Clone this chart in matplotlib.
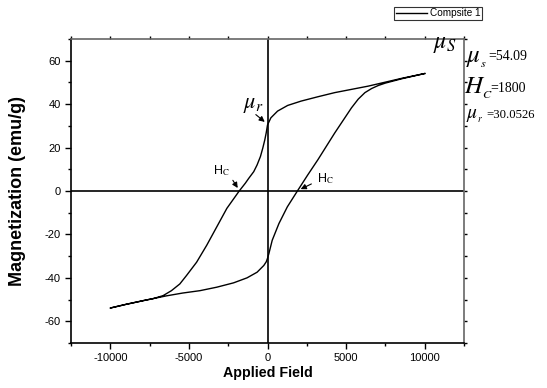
import matplotlib
matplotlib.use("Agg")
import matplotlib.pyplot as plt
from matplotlib.ticker import MultipleLocator

plt.rcParams['font.family'] = ['Liberation Sans', 'DejaVu Sans']
plt.rcParams['mathtext.fontset'] = 'stix'
plt.rcParams['axes.unicode_minus'] = False

# Upper (descending) branch
H_up = [10000, 8547, 7479, 6410, 5342, 4274, 3205, 2137, 1282, 641, 214, 0,
        -85, -171, -299, -449, -663, -876, -1197, -1410, -1800, -2586, -3226,
        -3867, -4510, -5150, -5577, -6111, -6645, -7286, -7778, -9000, -10000]
M_up = [54.1, 51.9, 50.1, 48.3, 46.8, 45.3, 43.4, 41.4, 39.4, 36.8, 33.7, 30.4,
        26.7, 23.6, 19.8, 15.9, 12.0, 8.9, 5.8, 3.6, 0.0, -8.0, -16.5,
        -25.0, -32.8, -38.9, -42.8, -45.9, -48.2, -49.6, -50.3, -52.2, -53.9]
# Lower (ascending) branch
H_lo = [-10000, -9000, -7778, -6433, -5400, -4295, -3226, -2158, -1303, -662,
        -235, -80, 0, 85, 299, 726, 1261, 1901, 2550, 3205, 4274, 5342, 5770,
        6197, 6625, 7051, 7500, 8547, 10000]
M_lo = [-53.9, -52.2, -50.3, -48.3, -47.0, -45.9, -44.3, -42.3, -40.0, -37.4,
        -34.3, -32.6, -31.0, -28.9, -22.7, -15.0, -7.3, 0.0, 7.3, 14.4, 26.7,
        38.3, 42.3, 45.3, 47.2, 48.6, 49.7, 51.7, 54.1]

legend_label = "Compsite 1"
x_ticks = [-10000, -5000, 0, 5000, 10000]
y_ticks = [-60, -40, -20, 0, 20, 40, 60]

fig = plt.figure(figsize=(5.47, 3.88), dpi=100)
ax = fig.add_axes([0.1298, 0.116, 0.7185, 0.7835])

H_all = H_up + H_lo[1:]
M_all = M_up + M_lo[1:]
line, = ax.plot(H_all, M_all, color='black', lw=1.0, label=legend_label)

ax.axhline(0, color='black', lw=1.2, zorder=1)
ax.axvline(0, color='black', lw=1.2, zorder=1)

ax.set_xlim(-12500, 12500)
ax.set_ylim(-70, 70)
ax.set_xticks(x_ticks)
ax.set_yticks(y_ticks)
ax.xaxis.set_minor_locator(MultipleLocator(2500))
ax.yaxis.set_minor_locator(MultipleLocator(10))
ax.tick_params(which='major', direction='out', length=4, width=1, labelsize=8)
ax.tick_params(which='minor', direction='out', length=2.5, width=1)
ax.tick_params(which='both', top=True, right=True)
for s in ['top', 'right']:
    ax.spines[s].set_color('#666666')
    ax.spines[s].set_linewidth(1.2)
for s in ['left', 'bottom']:
    ax.spines[s].set_linewidth(1.2)
for t in ax.xaxis.get_major_ticks() + ax.xaxis.get_minor_ticks():
    t.tick2line.set_markersize(2)
    t.tick2line.set_color('#888888')
for t in ax.yaxis.get_major_ticks() + ax.yaxis.get_minor_ticks():
    t.tick2line.set_markersize(2)
    t.tick2line.set_color('#888888')

ax.set_xlabel("Applied Field", fontsize=10.3, fontweight='bold', labelpad=2)
ax.set_ylabel("Magnetization (emu/g)", fontsize=13, fontweight='bold', labelpad=13)

# annotations on curve
ax.text(10500, 67.5, r'$\mu_{S}$', fontsize=17, ha='left', va='center')
ax.text(-900, 40.0, r'$\mu_{r}$', fontsize=16, ha='center', va='center')
ax.annotate('', xy=(-40, 31), xytext=(-880, 36),
            arrowprops=dict(arrowstyle='-|>', color='black', lw=0.8, mutation_scale=8))
ax.text(-2950, 9.5, r'H$_\mathrm{C}$', fontsize=9, ha='center', va='center')
ax.annotate('', xy=(-1800, 0.3), xytext=(-2300, 6.0),
            arrowprops=dict(arrowstyle='-|>', color='black', lw=0.8, mutation_scale=8))
ax.text(3700, 5.5, r'H$_\mathrm{C}$', fontsize=9, ha='center', va='center')
ax.annotate('', xy=(1950, 0.3), xytext=(2950, 3.8),
            arrowprops=dict(arrowstyle='-|>', color='black', lw=0.8, mutation_scale=8))

# right-side parameter text
def px(x, y):
    return x / 547, 1 - y / 388

fig.text(*px(466, 58), r'$\mu_{_s}$', fontsize=18, ha='left', va='center')
fig.text(*px(488, 57), '=54.09', fontsize=10, family='Liberation Serif', ha='left', va='center')
fig.text(*px(464, 88), r'$H_{_C}$', fontsize=18, ha='left', va='center')
fig.text(*px(490, 88), '=1800', fontsize=10, family='Liberation Serif', ha='left', va='center')
fig.text(*px(466, 116), r'$\mu_{_r}$', fontsize=14, ha='left', va='center')
fig.text(*px(486, 115), '=30.0526', fontsize=9.2, family='Liberation Serif', ha='left', va='center')

leg = fig.legend(handles=[line], loc='upper left', bbox_to_anchor=(394 / 547, 1 - 7 / 388),
                 fontsize=7.2, frameon=True, fancybox=False, edgecolor='black',
                 handlelength=3.1, handletextpad=0.3, borderpad=0.15, borderaxespad=0)
leg.get_frame().set_linewidth(0.8)

fig.savefig('out.png', dpi=100)
